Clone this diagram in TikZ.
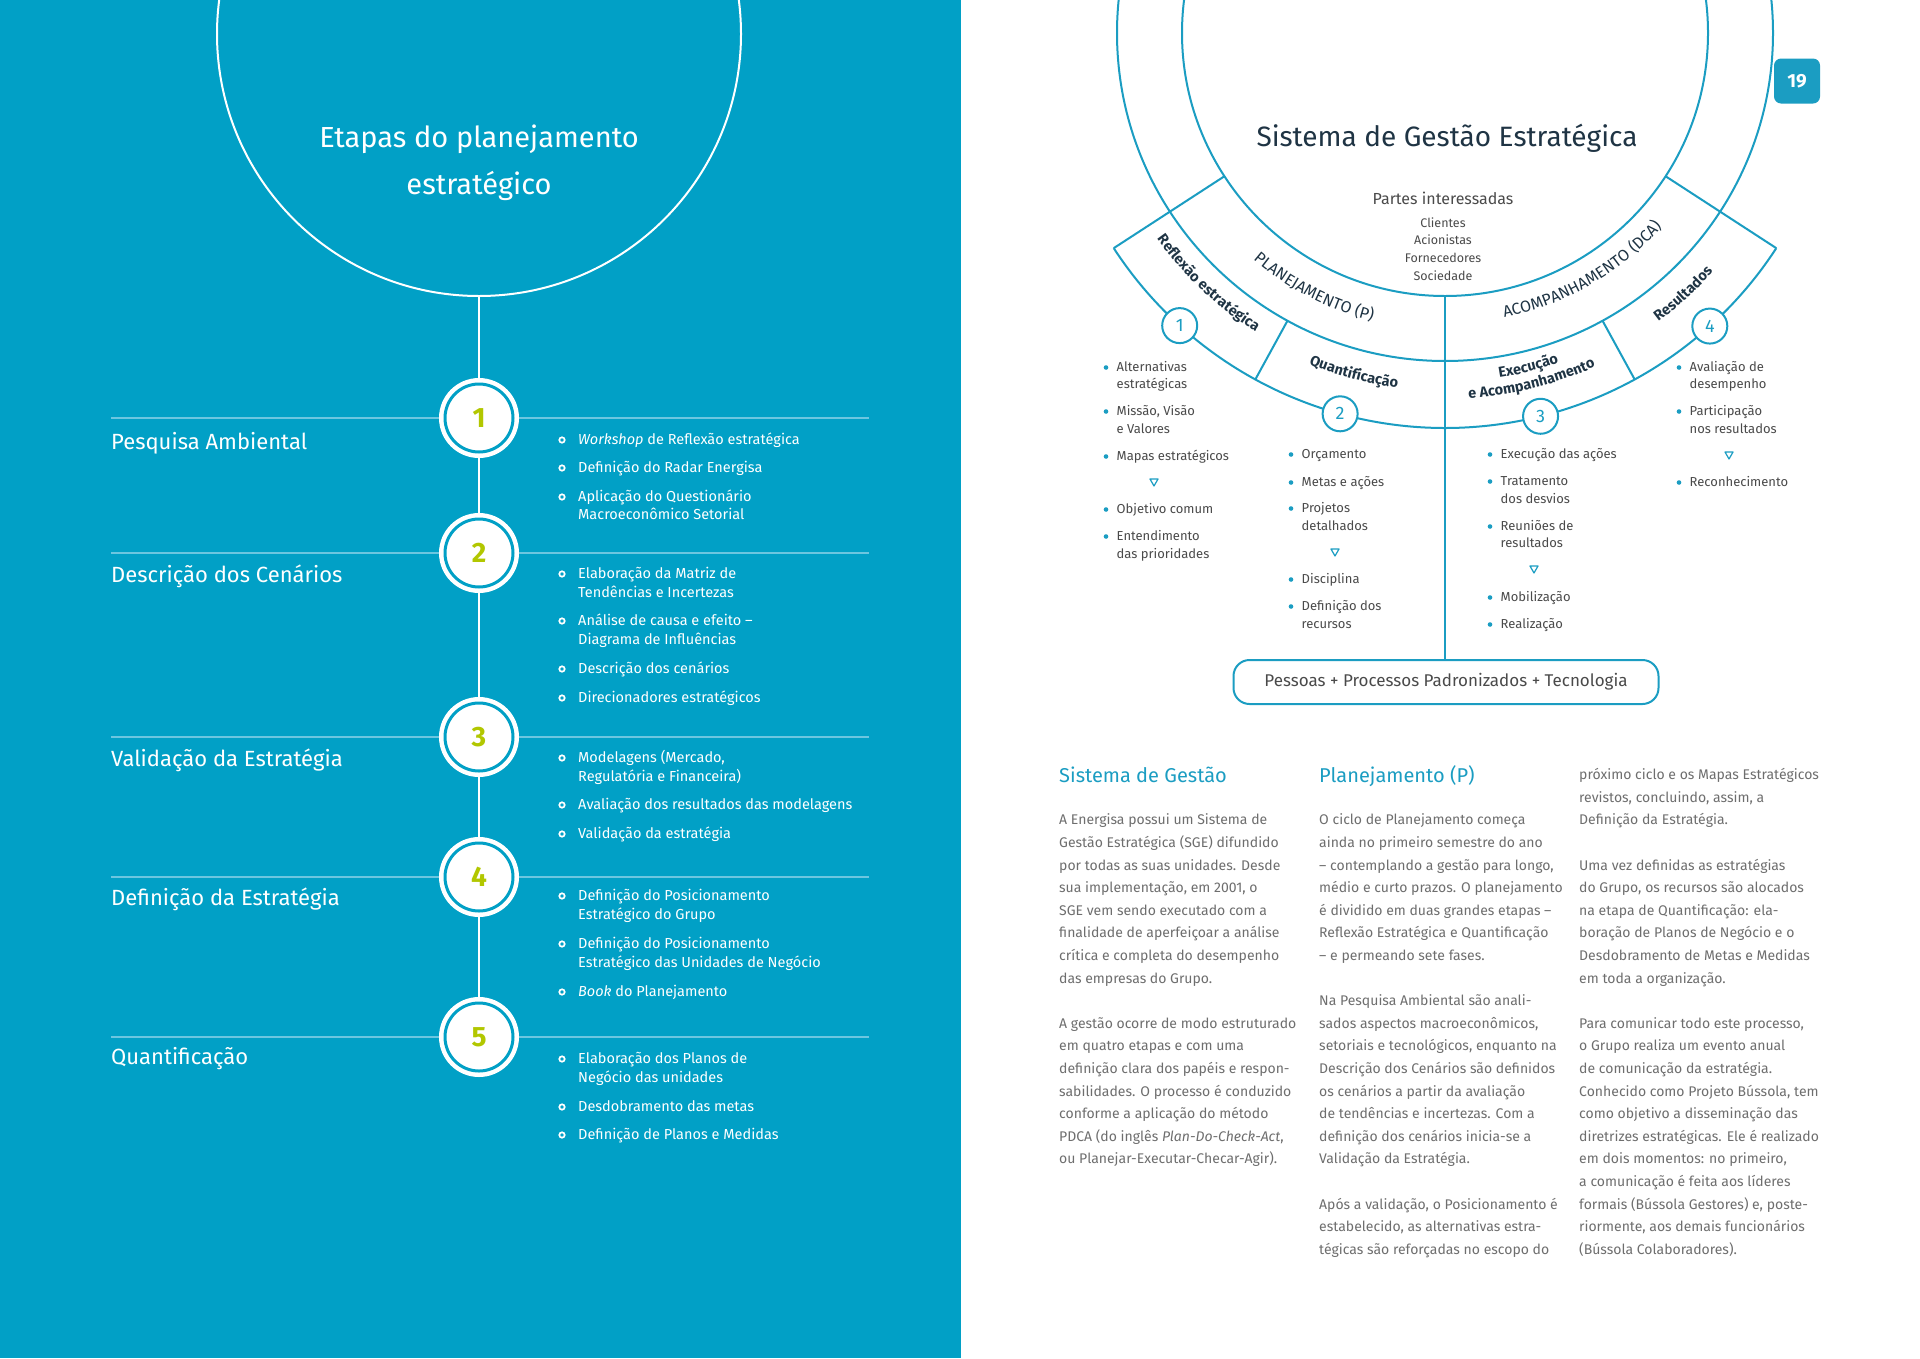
\documentclass[tikz,border=0pt]{standalone}
\usepackage{fontspec}
\setmainfont{Fira Sans}
\usetikzlibrary{decorations.text}
\definecolor{bgblue}{HTML}{01A0C6}
\definecolor{rblue}{HTML}{1B9DC2}
\definecolor{hline}{HTML}{6CC6E0}
\definecolor{lime}{HTML}{B2C700}
\definecolor{navy}{HTML}{1F3444}
\definecolor{dgray}{HTML}{4A4A4A}
\definecolor{mgray}{HTML}{6E6E6E}
\newcommand{\myfs}[1]{\fontsize{#1}{#1}\selectfont}
\begin{document}
\begin{tikzpicture}[x=1pt,y=1pt,
  stepcirc/.style={circle, fill=white, minimum size=80, inner sep=0, font=\bfseries\myfs{28}, text=lime,
    path picture={\draw[bgblue, line width=3] (path picture bounding box.center) circle (34);}},
  lab/.style={text=white, font=\myfs{22}, anchor=base west, inner sep=0},
  litem/.style={text=white, font=\myfs{14.5}, anchor=base west, inner sep=0},
  ritem/.style={text=dgray, font=\myfs{13}, anchor=base west, inner sep=0},
  body/.style={text=mgray, font=\myfs{14}, anchor=base west, inner sep=0},
  head/.style={text=rblue, font=\myfs{20}, anchor=base west, inner sep=0},
  ring/.style={draw=rblue, line width=2},
  rnum/.style={circle, draw=rblue, line width=2, fill=white, minimum size=35, inner sep=0, text=rblue, font=\myfs{18}},
  tri/.style={draw=rblue, line width=1.2, line join=round},
]
\useasboundingbox (0,0) rectangle (1920,-1358);
\clip (0,0) rectangle (1920,-1358);
\fill[white] (0,0) rectangle (1920,-1358);
\fill[bgblue] (0,0) rectangle (961,-1358);

% ---------------- left page ----------------
\node[circle, draw=white, line width=2, minimum size=524, inner sep=0] (lcirc) at (479,-34) {};
\node[text=white, font=\myfs{29}, align=center, inner sep=0] (ltitle) at (479,-163) {Etapas do planejamento\\[17pt]estratégico};

\coordinate (c5) at (479,-1037);
\draw[white, line width=2] (lcirc.south) -- (c5);

\foreach \y [count=\i] in {418,553,737,877,1037} {
  \coordinate (ha\i) at (111,-\y);
  \coordinate (hb\i) at (869,-\y);
  \draw[hline, line width=2] (ha\i) -- (hb\i);
}
\foreach \y/\n [count=\i] in {418/1,553/2,737/3,877/4,1037/5} {
  \node[stepcirc] (s\i) at (479,-\y) {\n};
}
\foreach \y/\t [count=\i] in {442/{Pesquisa Ambiental},575/{Descrição dos Cenários},759/{Validação da Estratégia},898/{Definição da Estratégia},1057/{Quantificação}} {
  \node[lab] (lab\i) at (111,{-\y-7.5}) {\t};
}
\foreach \y/\t/\b [count=\i] in {
  439/{\textit{Workshop} de Reflexão estratégica}/1,
  467/{Definição do Radar Energisa}/1,
  496/{Aplicação do Questionário}/1,
  514/{Macroeconômico Setorial}/0,
  573/{Elaboração da Matriz de}/1,
  592/{Tendências e Incertezas}/0,
  620/{Análise de causa e efeito –}/1,
  639/{Diagrama de Influências}/0,
  668/{Descrição dos cenários}/1,
  697/{Direcionadores estratégicos}/1,
  757/{Modelagens (Mercado,}/1,
  776/{Regulatória e Financeira)}/0,
  804/{Avaliação dos resultados das modelagens}/1,
  833/{Validação da estratégia}/1,
  895/{Definição do Posicionamento}/1,
  914/{Estratégico do Grupo}/0,
  943/{Definição do Posicionamento}/1,
  962/{Estratégico das Unidades de Negócio}/0,
  991/{\textit{Book} do Planejamento}/1,
  1058/{Elaboração dos Planos de}/1,
  1077/{Negócio das unidades}/0,
  1106/{Desdobramento das metas}/1,
  1134/{Definição de Planos e Medidas}/1} {
  \node[litem] (li\i) at (578,{-\y-5}) {\t};
  \ifnum\b=1 \draw[white, line width=1.7] (562,{-\y-1}) circle (2.7); \fi
}

% ---------------- right page ----------------
\node[text=navy, font=\myfs{28}, inner sep=0] (rtitle) at (1447,-138) {Sistema de Gestão Estratégica};
\node[fill=rblue, rounded corners=7, minimum width=46, minimum height=45, inner sep=0, text=white, font=\bfseries\myfs{19}] (pg) at (1797,-81) {19};

\node[text=dgray, font=\myfs{16}, inner sep=0] (partes) at (1443,-198) {Partes interessadas};
\foreach \y/\t [count=\i] in {223/Clientes,240/Acionistas,258/Fornecedores,276/Sociedade} {
  \node[text=dgray, font=\myfs{12.5}, inner sep=0] (pi\i) at (1443,-\y) {\t};
}

\begin{scope}[shift={(1445,-33)}]
  \draw[ring] (0,0) circle (263);
  \draw[ring] (0,0) circle (328);
  \draw[ring] (213:395) arc[start angle=213, end angle=327, radius=395];
  \draw[ring] (213:263) -- (213:395);
  \draw[ring] (327:263) -- (327:395);
  \draw[ring] (241.3:328) -- (241.3:395);
  \draw[ring] (298.7:328) -- (298.7:395);
  \coordinate (ibot) at (270:263);

  \path[decorate, decoration={text along path, text align=center,
     text={|\myfs{16}\color{navy}|PLANEJAMENTO (P)}}]
     (212.8:297) arc[start angle=212.8, end angle=272.8, radius=297];
  \path[decorate, decoration={text along path, text align=center,
     text={|\myfs{16}\color{navy}|ACOMPANHAMENTO (DCA)}}]
     (265:291) arc[start angle=265, end angle=335, radius=291];
  \path[decorate, decoration={text along path, text align=center,
     text={|\bfseries\myfs{14.5}\color{navy}|Reflexão estratégica}}]
     (196.6:354) arc[start angle=196.6, end angle=256.6, radius=354];
  \path[decorate, decoration={text along path, text align=center,
     text={|\bfseries\myfs{14.5}\color{navy}|Quantificação}}]
     (230:358) arc[start angle=230, end angle=280, radius=358];
  \path[decorate, decoration={text along path, text align=center,
     text={|\bfseries\myfs{14.5}\color{navy}|Execução}}]
     (259:349) arc[start angle=259, end angle=309, radius=349];
  \path[decorate, decoration={text along path, text align=center,
     text={|\bfseries\myfs{14.5}\color{navy}|e Acompanhamento}}]
     (254:366) arc[start angle=254, end angle=314, radius=366];
  \path[decorate, decoration={text along path, text align=center,
     text={|\bfseries\myfs{14.5}\color{navy}|Resultados}}]
     (287.4:359) arc[start angle=287.4, end angle=337.4, radius=359];

  \node[rnum] (n1) at (227.8:395) {1};
  \node[rnum] (n2) at (254.6:395) {2};
  \node[rnum] (n3) at (284.0:395) {3};
  \node[rnum] (n4) at (312.1:395) {4};
\end{scope}

\node[draw=rblue, line width=2, rounded corners=16, minimum width=425, minimum height=44, inner sep=0,
      text=dgray, font=\myfs{17}] (base) at (1446,-682) {Pessoas + Processos Padronizados + Tecnologia};
\draw[ring] (ibot) -- (ibot |- base.north);

\foreach \bx/\y/\t/\b [count=\i] in {
  1106/367/{Alternativas}/1, 1106/384/{estratégicas}/0,
  1106/411/{Missão, Visão}/1, 1106/429/{e Valores}/0,
  1106/456/{Mapas estratégicos}/1, 1106/509/{Objetivo comum}/1,
  1106/536/{Entendimento}/1, 1106/554/{das prioridades}/0,
  1291/454/{Orçamento}/1, 1291/482/{Metas e ações}/1,
  1291/508/{Projetos}/1, 1291/526/{detalhados}/0,
  1291/579/{Disciplina}/1, 1291/606/{Definição dos}/1, 1291/624/{recursos}/0,
  1490/454/{Execução das ações}/1, 1490/481/{Tratamento}/1, 1490/499/{dos desvios}/0,
  1490/526/{Reuniões de}/1, 1490/543/{resultados}/0,
  1490/597/{Mobilização}/1, 1490/624/{Realização}/1,
  1679/367/{Avaliação de}/1, 1679/384/{desempenho}/0,
  1679/411/{Participação}/1, 1679/429/{nos resultados}/0,
  1679/482/{Reconhecimento}/1} {
  \node[ritem] (ri\i) at ({\bx+10.5},{-\y-4.5}) {\t};
  \ifnum\b=1 \fill[rblue] (\bx,{-\y-0.5}) circle (2.3); \fi
}
\foreach \tx/\ty in {1154/482,1335/552,1534/569,1729/455} {
  \draw[tri] ({\tx-4},{-\ty+3}) -- ({\tx+4},{-\ty+3}) -- (\tx,{-\ty-4}) -- cycle;
}

% ---------------- body text ----------------
\node[head] (hA) at (1059,{-776-6.5}) {Sistema de Gestão};
\node[head] (hB) at (1319,{-776-6.5}) {Planejamento (P)};

\foreach \t [count=\i from 2] in {
  {A Energisa possui um Sistema de},
  {Gestão Estratégica (SGE) difundido},
  {por todas as suas unidades. Desde},
  {sua implementação, em 2001, o},
  {SGE vem sendo executado com a},
  {finalidade de aperfeiçoar a análise},
  {crítica e completa do desempenho},
  {das empresas do Grupo.}} {
  \node[body] (a\i) at (1059,{-775-22.6*\i-4.6}) {\t};
}
\foreach \t [count=\i from 11] in {
  {A gestão ocorre de modo estruturado},
  {em quatro etapas e com uma},
  {definição clara dos papéis e respon-},
  {sabilidades. O processo é conduzido},
  {conforme a aplicação do método},
  {PDCA (do inglês \textit{Plan-Do-Check-Act},},
  {ou Planejar-Executar-Checar-Agir).}} {
  \node[body] (a\i) at (1059,{-775-22.6*\i-4.6}) {\t};
}
\foreach \t [count=\i from 2] in {
  {O ciclo de Planejamento começa},
  {ainda no primeiro semestre do ano},
  {– contemplando a gestão para longo,},
  {médio e curto prazos. O planejamento},
  {é dividido em duas grandes etapas –},
  {Reflexão Estratégica e Quantificação},
  {– e permeando sete fases.}} {
  \node[body] (b\i) at (1319,{-775-22.6*\i-4.6}) {\t};
}
\foreach \t [count=\i from 10] in {
  {Na Pesquisa Ambiental são anali-},
  {sados aspectos macroeconômicos,},
  {setoriais e tecnológicos, enquanto na},
  {Descrição dos Cenários são definidos},
  {os cenários a partir da avaliação},
  {de tendências e incertezas. Com a},
  {definição dos cenários inicia-se a},
  {Validação da Estratégia.}} {
  \node[body] (b\i) at (1319,{-775-22.6*\i-4.6}) {\t};
}
\foreach \t [count=\i from 19] in {
  {Após a validação, o Posicionamento é},
  {estabelecido, as alternativas estra-},
  {tégicas são reforçadas no escopo do}} {
  \node[body] (b\i) at (1319,{-775-22.6*\i-4.6}) {\t};
}
\foreach \t [count=\i from 0] in {
  {próximo ciclo e os Mapas Estratégicos},
  {revistos, concluindo, assim, a},
  {Definição da Estratégia.}} {
  \node[body] (c\i) at (1579,{-775-22.6*\i-4.6}) {\t};
}
\foreach \t [count=\i from 4] in {
  {Uma vez definidas as estratégias},
  {do Grupo, os recursos são alocados},
  {na etapa de Quantificação: ela-},
  {boração de Planos de Negócio e o},
  {Desdobramento de Metas e Medidas},
  {em toda a organização.}} {
  \node[body] (c\i) at (1579,{-775-22.6*\i-4.6}) {\t};
}
\foreach \t [count=\i from 11] in {
  {Para comunicar todo este processo,},
  {o Grupo realiza um evento anual},
  {de comunicação da estratégia.},
  {Conhecido como Projeto Bússola, tem},
  {como objetivo a disseminação das},
  {diretrizes estratégicas. Ele é realizado},
  {em dois momentos: no primeiro,},
  {a comunicação é feita aos líderes},
  {formais (Bússola Gestores) e, poste-},
  {riormente, aos demais funcionários},
  {(Bússola Colaboradores).}} {
  \node[body] (c\i) at (1579,{-775-22.6*\i-4.6}) {\t};
}
\end{tikzpicture}
\end{document}
